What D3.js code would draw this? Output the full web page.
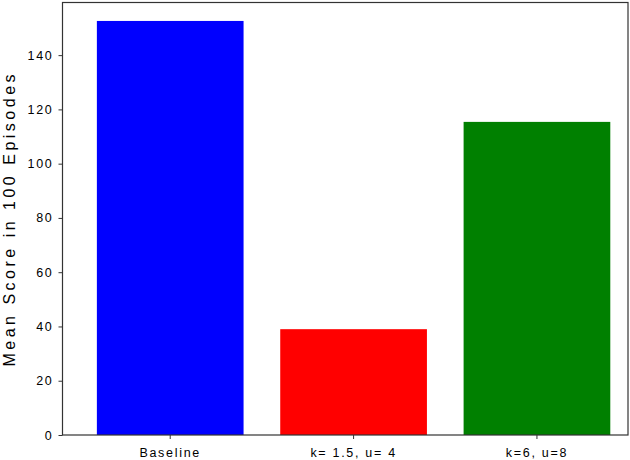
<!DOCTYPE html>
<html>
<head>
<meta charset="utf-8">
<script src="https://cdn.jsdelivr.net/npm/d3@7"></script>
<style>
  body { margin: 0; background: #fff; }
  text { font-family: "Liberation Sans", Arial, sans-serif; fill: #000; }
</style>
</head>
<body>
<div id="chart"></div>
<script>
const categories = ['Baseline', 'k= 1.5, u= 4', 'k=6, u=8'];
const scores = [152.6, 39.0, 115.4];
const barColors = ['#0000ff', '#ff0000', '#008000'];
const yTicks = [0, 20, 40, 60, 80, 100, 120, 140];
const yMax = 159.4;

const width = 630;
const height = 460;
const margin = { top: 2.5, right: 2, bottom: 25, left: 62.5 };

const svg = d3.select('#chart')
  .append('svg')
  .attr('width', width)
  .attr('height', height);

const xScale = d3.scaleBand()
  .domain(categories)
  .range([margin.left, width - margin.right])
  .paddingInner(0.2)
  .paddingOuter(0.142)
  .align(0.66);

const yScale = d3.scaleLinear()
  .domain([0, yMax])
  .range([height - margin.bottom, margin.top]);

svg.append('g')
  .selectAll('rect')
  .data(categories)
  .enter()
  .append('rect')
  .attr('x', d => xScale(d))
  .attr('width', xScale.bandwidth())
  .attr('y', (d, i) => yScale(scores[i]))
  .attr('height', (d, i) => yScale(0) - yScale(scores[i]))
  .attr('fill', (d, i) => barColors[i]);

// frame
svg.append('rect')
  .attr('x', margin.left)
  .attr('y', margin.top)
  .attr('width', width - margin.left - margin.right)
  .attr('height', height - margin.top - margin.bottom)
  .attr('fill', 'none')
  .attr('stroke', '#333')
  .attr('stroke-width', 1.2);

const xAxis = d3.axisBottom(xScale).tickSize(4).tickPadding(9).tickSizeOuter(0);
const yAxis = d3.axisLeft(yScale).tickValues(yTicks).tickSize(4).tickPadding(5).tickSizeOuter(0);

const gx = svg.append('g')
  .attr('transform', `translate(0, ${height - margin.bottom})`)
  .call(xAxis);

const gy = svg.append('g')
  .attr('transform', `translate(${margin.left}, 0)`)
  .call(yAxis);

[gx, gy].forEach(g => {
  g.select('.domain').remove();
  g.selectAll('.tick line').attr('stroke', '#333');
  g.selectAll('.tick text')
    .style('font-family', '"Liberation Sans", Arial, sans-serif')
    .style('font-size', '12.5px')
    .style('letter-spacing', '1.7px')
    .attr('fill', '#000');
});

svg.append('text')
  .attr('transform', `translate(14.5, ${(margin.top + height - margin.bottom) / 2}) rotate(-90)`)
  .attr('text-anchor', 'middle')
  .style('font-size', '16px')
  .style('letter-spacing', '3.5px')
  .text('Mean Score in 100 Episodes');
</script>
</body>
</html>
